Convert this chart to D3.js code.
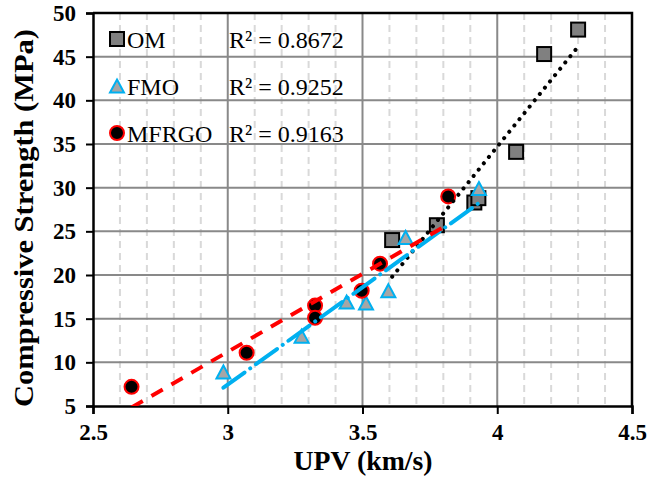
<!DOCTYPE html>
<html>
<head>
<meta charset="utf-8">
<script src="https://cdn.jsdelivr.net/npm/d3@7"></script>
<style>
html,body{margin:0;padding:0;background:#fff;}
svg{display:block;}
</style>
</head>
<body>
<svg id="chart" width="648" height="477"></svg>
<script>
// ---- data ----
const seriesNames = ["OM", "FMO", "MFRGO"];
const r2Labels = ["R² = 0.8672", "R² = 0.9252", "R² = 0.9163"];
const upvOM = [3.610, 3.776, 3.915, 3.930, 4.070, 4.174, 4.300];
const csOM  = [24.0, 25.7, 28.3, 28.8, 34.1, 45.3, 48.1];
const upvFMO = [2.984, 3.274, 3.441, 3.513, 3.596, 3.660, 3.932];
const csFMO  = [8.9, 13.0, 16.9, 16.8, 18.2, 24.3, 29.9];
const upvMFRGO = [2.643, 3.070, 3.324, 3.324, 3.497, 3.565, 3.818];
const csMFRGO  = [7.2, 11.1, 16.5, 15.1, 18.2, 21.3, 29.0];
const xTicks = [2.5, 3, 3.5, 4, 4.5];
const yTicks = [5, 10, 15, 20, 25, 30, 35, 40, 45, 50];

// ---- layout ----
const svg = d3.select("#chart");
const L = 93, R = 632, T = 13, B = 406;
const x = d3.scaleLinear().domain([2.5, 4.5]).range([L, R]);
const y = d3.scaleLinear().domain([5, 50]).range([B, T]);
const serif = "'Liberation Serif','Times New Roman',serif";

svg.append("defs").append("clipPath").attr("id", "clip")
  .append("rect").attr("x", L).attr("y", T).attr("width", R - L).attr("height", B - T);

// minor vertical dashed gridlines
const minor = d3.range(25, 46).map(v => v / 10).filter(v => Math.abs(v * 2 - Math.round(v * 2)) > 1e-6);
svg.append("g").selectAll("line").data(minor).join("line")
  .attr("x1", d => x(d)).attr("x2", d => x(d)).attr("y1", T).attr("y2", B)
  .attr("stroke", "#d9d9d9").attr("stroke-width", 2).attr("stroke-dasharray", "7,5");

// major gridlines
svg.append("g").selectAll("line").data(xTicks.slice(1, -1)).join("line")
  .attr("x1", d => x(d)).attr("x2", d => x(d)).attr("y1", T).attr("y2", B)
  .attr("stroke", "#898989").attr("stroke-width", 2);
svg.append("g").selectAll("line").data(yTicks.slice(1, -1)).join("line")
  .attr("x1", L).attr("x2", R).attr("y1", d => y(d)).attr("y2", d => y(d))
  .attr("stroke", "#898989").attr("stroke-width", 2);

// axes
const xAxis = svg.append("g").attr("transform", `translate(0,${B})`)
  .call(d3.axisBottom(x).tickValues(xTicks).tickFormat(d3.format("")).tickSize(8).tickPadding(10));
const yAxis = svg.append("g").attr("transform", `translate(${L},0)`)
  .call(d3.axisLeft(y).tickValues(yTicks).tickSize(7).tickPadding(10));
[xAxis, yAxis].forEach(g => {
  g.select(".domain").attr("stroke", "#000").attr("stroke-width", 2.5);
  g.selectAll(".tick line").attr("stroke", "#000").attr("stroke-width", 2);
  g.selectAll(".tick text").attr("fill", "#000").style("font-family", serif)
    .style("font-size", "23px").style("font-weight", "bold");
});
// top/right border
svg.append("path").attr("d", `M${L},${T}H${R}V${B}`).attr("fill", "none")
  .attr("stroke", "#000").attr("stroke-width", 2.5);

// markers
function drawMarker(g, type, cx, cy) {
  if (type === 0) {
    g.append("rect").attr("x", cx - 7).attr("y", cy - 7).attr("width", 14).attr("height", 14)
      .attr("fill", "#808080").attr("stroke", "#000").attr("stroke-width", 2);
  } else if (type === 1) {
    const h = 13, w = 14;
    g.append("path").attr("d", `M${cx},${cy - h / 2}L${cx + w / 2},${cy + h / 2}L${cx - w / 2},${cy + h / 2}Z`)
      .attr("fill", "#a6a6a6").attr("stroke", "#00b0f0").attr("stroke-width", 2).attr("stroke-linejoin", "miter");
  } else {
    g.append("circle").attr("cx", cx).attr("cy", cy).attr("r", 7)
      .attr("fill", "#000").attr("stroke", "#ff0000").attr("stroke-width", 2);
  }
}
const seriesX = [upvOM, upvFMO, upvMFRGO];
const seriesY = [csOM, csFMO, csMFRGO];
const markG = svg.append("g");
seriesX.forEach((xs, s) => xs.forEach((v, i) => drawMarker(markG, s, x(v), y(seriesY[s][i]))));

// linear trendlines (least squares)
function fit(xs, ys) {
  const mx = d3.mean(xs), my = d3.mean(ys);
  let sxy = 0, sxx = 0;
  xs.forEach((v, i) => { sxy += (v - mx) * (ys[i] - my); sxx += (v - mx) ** 2; });
  const b = sxy / sxx; return { b, a: my - b * mx };
}
const trendStyles = [
  { stroke: "#000", width: 4, dash: "0.1,8", cap: "round" },
  { stroke: "#00b0f0", width: 4, dash: "26,7,0.1,7", cap: "round" },
  { stroke: "#ff0000", width: 4, dash: "13,10", cap: "butt" }
];
const trendG = svg.append("g").attr("clip-path", "url(#clip)");
seriesX.forEach((xs, s) => {
  const f = fit(xs, seriesY[s]);
  const x0 = d3.min(xs), x1 = d3.max(xs);
  const st = trendStyles[s];
  trendG.append("line")
    .attr("x1", x(x0)).attr("y1", y(f.a + f.b * x0))
    .attr("x2", x(x1)).attr("y2", y(f.a + f.b * x1))
    .attr("stroke", st.stroke).attr("stroke-width", st.width)
    .attr("stroke-dasharray", st.dash).attr("stroke-linecap", st.cap);
});

// legend + R² labels
const legY = [39, 86, 133];
const legG = svg.append("g");
seriesNames.forEach((n, s) => {
  drawMarker(legG, s, 117, legY[s]);
  legG.append("text").attr("x", 127).attr("y", legY[s] + 8.5).text(n)
    .style("font-family", serif).style("font-size", "24px").attr("fill", "#000");
  legG.append("text").attr("x", 229).attr("y", legY[s] + 9).text(r2Labels[s])
    .style("font-family", serif).style("font-size", "24px").attr("fill", "#000");
});

// axis titles
svg.append("text").attr("x", 363).attr("y", 470).attr("text-anchor", "middle")
  .style("font-family", serif).style("font-size", "27px").style("font-weight", "bold")
  .attr("textLength", 139).attr("lengthAdjust", "spacingAndGlyphs")
  .text("UPV (km/s)");
svg.append("text").attr("transform", "translate(33,218) rotate(-90)").attr("text-anchor", "middle")
  .style("font-family", serif).style("font-size", "27px").style("font-weight", "bold")
  .attr("textLength", 378).attr("lengthAdjust", "spacingAndGlyphs")
  .text("Compressive Strength (MPa)");
</script>
</body>
</html>
